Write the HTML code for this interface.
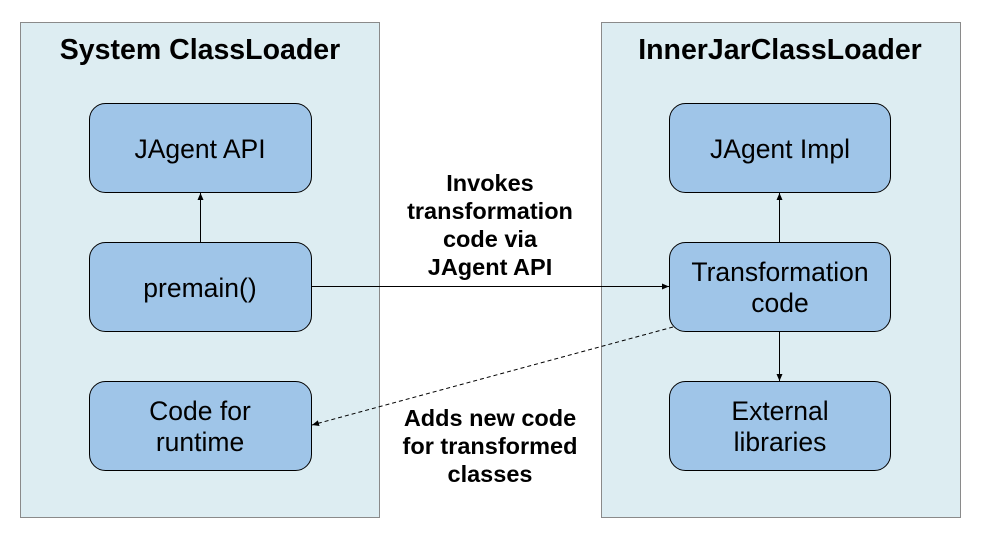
<!DOCTYPE html>
<html><head><style>
body{margin:0;background:#fff;}
</style></head><body>
<svg width="990" height="544" viewBox="0 0 990 544" xmlns="http://www.w3.org/2000/svg" font-family="Liberation Sans, Arial, Helvetica, sans-serif">
<defs><marker id="a" markerWidth="8" markerHeight="8" refX="7" refY="3" orient="auto" markerUnits="userSpaceOnUse"><path d="M0,0 L7,3 L0,6 z" fill="#000"/></marker></defs>
<rect x="20.5" y="22.5" width="359" height="495" fill="#ddedf2" stroke="#8a8a8a"/>
<rect x="601.5" y="22.5" width="359" height="495" fill="#ddedf2" stroke="#8a8a8a"/>
<text x="200" y="59" font-size="28.5" font-weight="bold" text-anchor="middle">System ClassLoader</text>
<text x="780" y="59" font-size="28.5" font-weight="bold" text-anchor="middle">InnerJarClassLoader</text>
<g fill="#9fc5e8" stroke="#000" stroke-width="1">
<rect x="89.5" y="103.5" width="222" height="89" rx="16"/>
<rect x="89.5" y="242.5" width="222" height="89" rx="16"/>
<rect x="89.5" y="381.5" width="222" height="89" rx="16"/>
<rect x="669.5" y="103.5" width="221" height="89" rx="16"/>
<rect x="669.5" y="242.5" width="221" height="89" rx="16"/>
<rect x="669.5" y="381.5" width="221" height="89" rx="16"/>
</g>
<g font-size="26.5" text-anchor="middle">
<text x="200" y="158">JAgent API</text>
<text x="200" y="297">premain()</text>
<text x="200" y="420">Code for</text><text x="200" y="451">runtime</text>
<text x="780" y="158">JAgent Impl</text>
<text x="780" y="281">Transformation</text><text x="780" y="312">code</text>
<text x="780" y="420">External</text><text x="780" y="451">libraries</text>
</g>
<g stroke="#000" stroke-width="1" fill="none">
<line x1="200.5" y1="242" x2="200.5" y2="193" marker-end="url(#a)"/>
<line x1="779.5" y1="242" x2="779.5" y2="193" marker-end="url(#a)"/>
<line x1="779.5" y1="331" x2="779.5" y2="381" marker-end="url(#a)"/>
<line x1="311" y1="286.5" x2="669" y2="286.5" marker-end="url(#a)"/>
<line x1="673" y1="327" x2="312" y2="425" stroke-dasharray="4,3" marker-end="url(#a)"/>
</g>
<rect x="380" y="165" width="221" height="112" fill="#fff"/>
<line x1="379.5" y1="286.5" x2="601" y2="286.5" stroke="#000"/>
<g font-size="23.5" font-weight="bold" text-anchor="middle">
<text x="490" y="191">Invokes</text>
<text x="490" y="219">transformation</text>
<text x="490" y="247">code via</text>
<text x="490" y="275">JAgent API</text>
<text x="490" y="426">Adds new code</text>
<text x="490" y="454">for transformed</text>
<text x="490" y="482">classes</text>
</g>
</svg>
</body></html>
